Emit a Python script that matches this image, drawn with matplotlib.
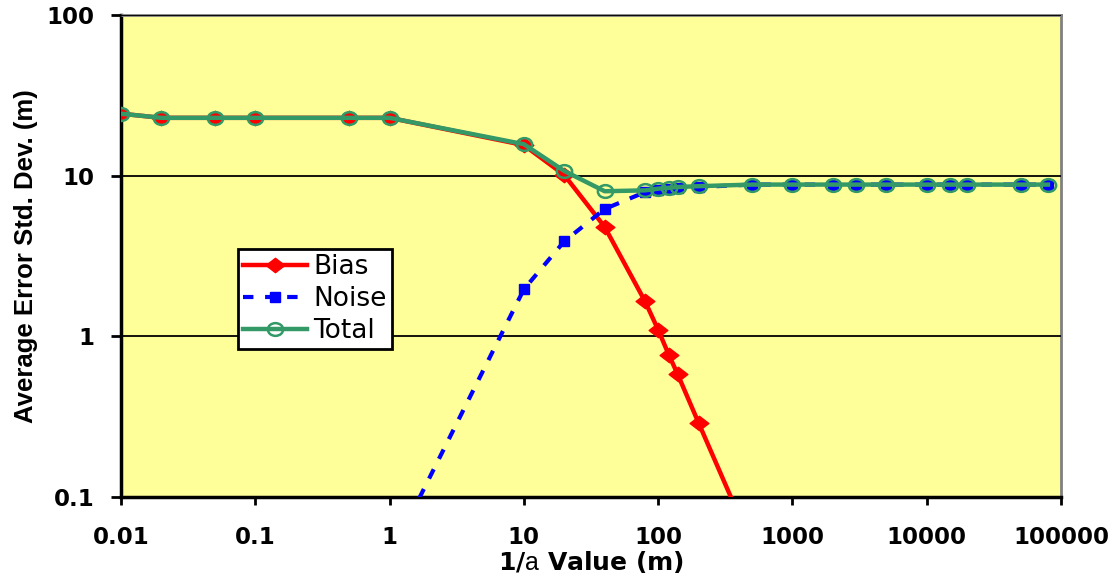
import numpy as np
import matplotlib.pyplot as plt
from matplotlib.path import Path

# data
x_bias = [0.01, 0.02, 0.05, 0.1, 0.5, 1, 10, 20, 40, 80, 100, 120, 140, 200, 500]
bias = [24.3, 22.9, 22.9, 22.9, 22.9, 22.9, 15.5, 10.1, 4.8, 1.65, 1.10, 0.77, 0.58, 0.29, 0.05]

x_noise = [1, 10, 20, 40, 80, 100, 120, 140, 200, 500, 1000, 2000, 3000, 5000,
           10000, 15000, 20000, 50000, 80000]
noise = [0.042, 1.96, 3.9, 6.2, 7.9, 8.2, 8.3, 8.4, 8.5, 8.8, 8.8, 8.8, 8.8, 8.8,
         8.8, 8.8, 8.8, 8.8, 8.8]

x_total = [0.01, 0.02, 0.05, 0.1, 0.5, 1, 10, 20, 40, 80, 100, 120, 140, 200, 500,
           1000, 2000, 3000, 5000, 10000, 15000, 20000, 50000, 80000]
total = [24.3, 22.9, 22.9, 22.9, 22.9, 22.9, 15.7, 10.7, 8.0, 8.1, 8.3, 8.4, 8.5, 8.6,
         8.8, 8.8, 8.8, 8.8, 8.8, 8.8, 8.8, 8.8, 8.8, 8.8]

xticks = [0.01, 0.1, 1, 10, 100, 1000, 10000, 100000]
xtick_labels = ['0.01', '0.1', '1', '10', '100', '1000', '10000', '100000']
yticks = [0.1, 1, 10, 100]
ytick_labels = ['0.1', '1', '10', '100']

plt.rcParams['font.family'] = ['DejaVu Sans']
plt.rcParams['mathtext.fontset'] = 'custom'
plt.rcParams['mathtext.rm'] = 'Liberation Sans'

# slightly wide markers, like the stretched Excel chart
diamond = Path([(-1.3, 0), (0, 1), (1.3, 0), (0, -1), (-1.3, 0)],
               [Path.MOVETO, Path.LINETO, Path.LINETO, Path.LINETO, Path.CLOSEPOLY])
circ = Path.unit_circle()
ellipse = Path(circ.vertices * [1.2, 1.0], circ.codes)

fig = plt.figure(figsize=(11.19, 5.85), dpi=100)
ax = fig.add_axes([0.1081, 0.1504, 0.840, 0.824])
ax.set_facecolor('#FFFF99')

ax.plot(x_bias, bias, color='#FF0000', lw=3.2, marker=diamond, ms=13.5,
        mfc='#FF0000', mec='#FF0000', label='Bias', zorder=3)
ax.plot(x_noise, noise, color='#0000FF', lw=3, ls=(0, (2.5, 2.8)), marker='s', ms=7,
        mfc='#0000FF', mec='#0000FF', label='Noise', zorder=4)
ax.plot(x_total, total, color='#339966', lw=3.2, marker=ellipse, ms=11,
        mfc='none', mec='#339966', mew=1.8, label='Total', zorder=5)

ax.set_xscale('log')
ax.set_yscale('log')
ax.set_xlim(0.01, 100000)
ax.set_ylim(0.1, 100)

ax.set_xticks(xticks)
ax.set_xticklabels(xtick_labels)
ax.set_yticks(yticks)
ax.set_yticklabels(ytick_labels)
ax.minorticks_off()
ax.tick_params(axis='both', labelsize=16.5, width=2, direction='out')
ax.tick_params(axis='x', length=6, pad=15)
ax.tick_params(axis='y', length=7, pad=12)
for lab in ax.get_xticklabels() + ax.get_yticklabels():
    lab.set_fontweight('bold')

ax.yaxis.grid(True, color='black', lw=1.3)
ax.set_axisbelow(False)
for s in ['left', 'bottom']:
    ax.spines[s].set_linewidth(2.5)
    ax.spines[s].set_color('black')
for s in ['top', 'right']:
    ax.spines[s].set_linewidth(2)
    ax.spines[s].set_color('#808080')

ax.set_xlabel(r'1/$\mathrm{a}$ Value (m)', fontsize=18, fontweight='bold', labelpad=0)
ax.set_ylabel('Average Error Std. Dev. (m)', fontsize=18.5, fontweight='bold',
              family='Liberation Sans', labelpad=6)

leg = ax.legend(loc='upper left', bbox_to_anchor=(0.1245, 0.5145), fontsize=19,
                frameon=True, fancybox=False, framealpha=1, edgecolor='black',
                handlelength=2.4, borderpad=0.2, labelspacing=0.22,
                handletextpad=0.25, borderaxespad=0)
leg.get_frame().set_linewidth(2)

fig.savefig('out.png', dpi=100)
